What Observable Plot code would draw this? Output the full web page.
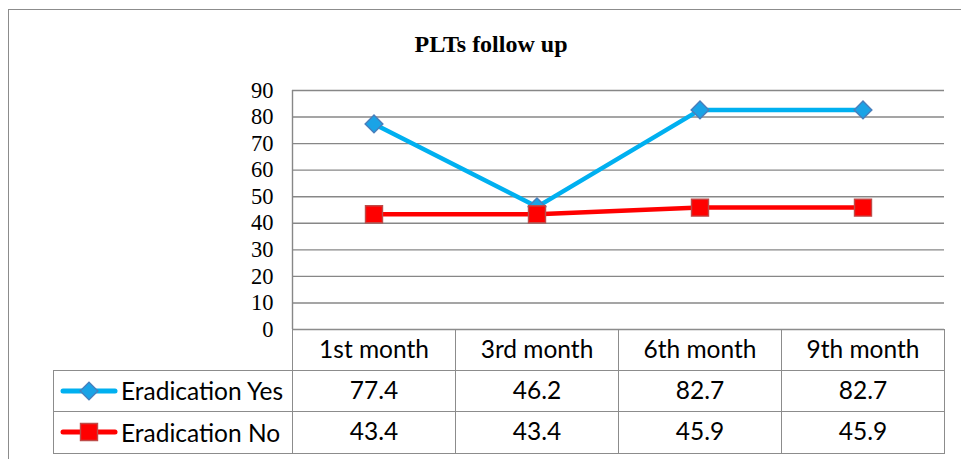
<!DOCTYPE html>
<html><head><meta charset="utf-8">
<script src="https://cdn.jsdelivr.net/npm/d3@7"></script>
<script src="https://cdn.jsdelivr.net/npm/@observablehq/plot@0.6"></script>
<style>
html,body{margin:0;padding:0;background:#fff;}
#wrap{position:relative;width:961px;height:459px;overflow:hidden;background:#fff;}
#frame{position:absolute;left:8px;top:9px;width:1000px;height:500px;border-left:1.5px solid #8c8c8c;border-top:1.5px solid #8c8c8c;box-sizing:border-box;}
#title{position:absolute;left:0;top:32px;width:982px;text-align:center;font-family:"Liberation Serif","Times New Roman",Times,serif;font-weight:bold;font-size:24px;line-height:24px;color:#000;}
#chart{position:absolute;left:0;top:0;}
#tbl{position:absolute;left:53px;top:329px;border-collapse:collapse;font-family:Lato,sans-serif;font-size:24.5px;color:#000;table-layout:fixed;}
#tbl td{border:1.5px solid #8c8c8c;text-align:center;padding:0 0 3px 0;white-space:nowrap;line-height:24px;}
#tbl td.blank{border-top:none;border-left:none;}
#tbl td.leg{text-align:left;}
#tbl td.leg svg{vertical-align:middle;margin-left:6px;margin-right:3px;}
#tbl td.leg span{vertical-align:middle;}
</style>
</head><body>
<div id="wrap">
  <div id="frame"></div>
  <div id="title">PLTs follow up</div>
  <div id="chart"></div>
  <table id="tbl"></table>
</div>
<script>
// ---- data ----
const months = ["1st month", "3rd month", "6th month", "9th month"];
const seriesNames = ["Eradication Yes", "Eradication No"];
const eradicationYes = [77.4, 46.2, 82.7, 82.7];
const eradicationNo = [43.4, 43.4, 45.9, 45.9];
const yTicks = [0, 10, 20, 30, 40, 50, 60, 70, 80, 90];

// ---- styles ----
const colors = {"Eradication Yes": "#00B0F0", "Eradication No": "#FF0000"};
const markerFill = {"Eradication Yes": "#1AA3E6", "Eradication No": "#FF0000"};
const markerStroke = {"Eradication Yes": "#4A7EBB", "Eradication No": "#BE4B48"};
const symbols = {"Eradication Yes": "diamond2", "Eradication No": "square"};
const markerR = {"Eradication Yes": 8, "Eradication No": 9.6};
const grid = "#878787";
const serif = "'Liberation Serif', 'Times New Roman', Times, serif";

const rows = [];
[eradicationYes, eradicationNo].forEach((vals, s) => {
  vals.forEach((v, i) => rows.push({series: seriesNames[s], month: months[i], i, value: v}));
});

const plot = Plot.plot({
  width: 961,
  height: 340,
  marginTop: 90,
  marginBottom: 11,
  marginLeft: 292,
  marginRight: 17,
  style: {fontFamily: serif, fontSize: "22.5px", color: "#000", background: "transparent", overflow: "visible"},
  x: {domain: [-0.5, months.length - 0.5], axis: null},
  y: {domain: [0, 90], ticks: yTicks, tickSize: 0, tickPadding: 19, label: null, tickFormat: d => String(d)},
  marks: [
    Plot.ruleY(yTicks, {stroke: grid, strokeWidth: 1.4}),
    Plot.ruleX([-0.5], {stroke: grid, strokeWidth: 1.4}),
    ...seriesNames.map(name => Plot.line(rows.filter(d => d.series === name), {
      x: "i", y: "value", stroke: colors[name], strokeWidth: 4.5
    })),
    ...seriesNames.map(name => Plot.dot(rows.filter(d => d.series === name), {
      x: "i", y: "value", symbol: () => symbols[name], r: markerR[name],
      fill: markerFill[name], stroke: markerStroke[name], strokeWidth: 1.4
    }))
  ]
});
document.getElementById("chart").appendChild(plot);

// ---- data table ----
const tbl = d3.select("#tbl");
const colg = tbl.append("colgroup");
colg.append("col").style("width", "239px");
months.forEach(() => colg.append("col").style("width", "163px"));
const head = tbl.append("tr").style("height", "41px");
head.append("td").attr("class", "blank");
months.forEach(m => head.append("td").text(m));
[eradicationYes, eradicationNo].forEach((vals, s) => {
  const name = seriesNames[s];
  const tr = tbl.append("tr").style("height", s === 0 ? "41px" : "42px");
  const leg = tr.append("td").attr("class", "leg");
  const svg = leg.append("svg").attr("width", 58).attr("height", 22);
  svg.append("line").attr("x1", 3).attr("x2", 55).attr("y1", 11).attr("y2", 11)
    .attr("stroke", colors[name]).attr("stroke-width", 5).attr("stroke-linecap", "round");
  const sym = symbols[name] === "square" ? d3.symbolSquare : d3.symbolDiamond2;
  const size = Math.PI * markerR[name] * markerR[name];
  svg.append("path").attr("transform", "translate(29,11)")
    .attr("d", d3.symbol(sym, size)())
    .attr("fill", markerFill[name]).attr("stroke", markerStroke[name]).attr("stroke-width", 1.4);
  leg.append("span").text(name);
  vals.forEach(v => tr.append("td").text(v.toFixed(1)));
});
</script>
</body></html>
